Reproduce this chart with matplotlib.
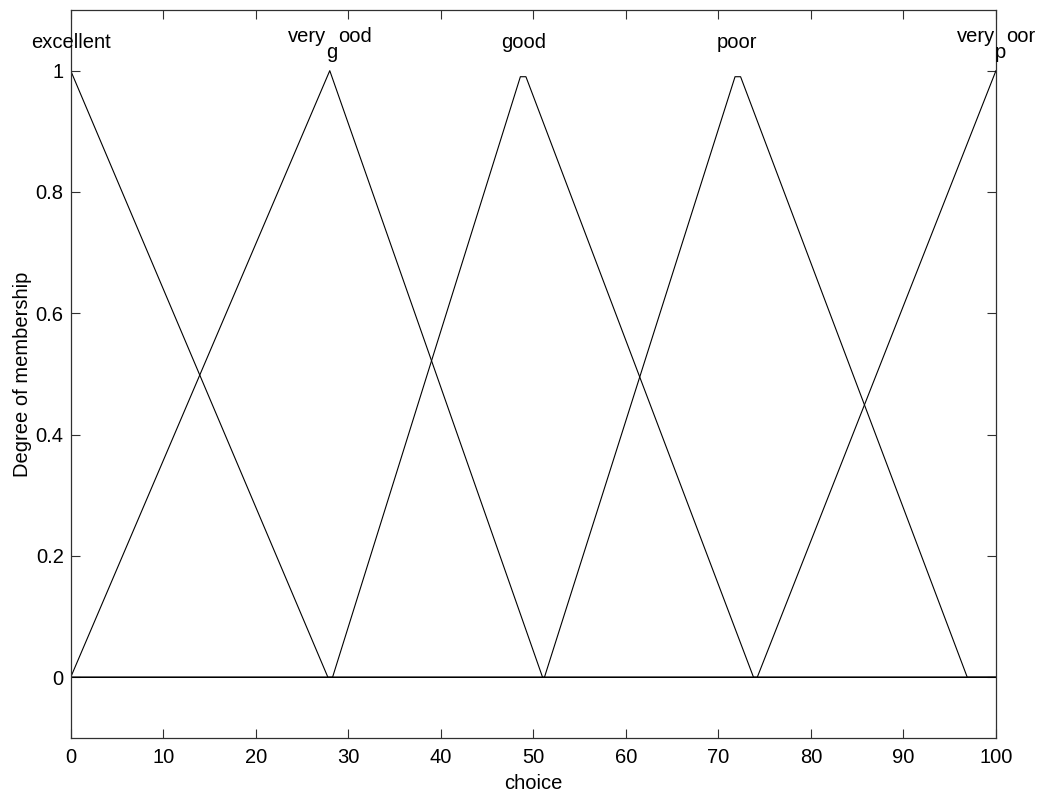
import numpy as np
import matplotlib
matplotlib.use("Agg")
import matplotlib.pyplot as plt

plt.rcParams['font.family'] = ['Liberation Sans', 'DejaVu Sans']

# membership function vertices
mf_names = ["excellent", "very_good", "good", "poor", "very_poor"]
mf_x = [
    [0, 27.8, 100],
    [0, 28.0, 51.0, 100],
    [0, 28.3, 48.6, 49.2, 73.8, 100],
    [0, 51.2, 71.8, 72.4, 96.9, 100],
    [0, 74.2, 100],
]
mf_y = [
    [1, 0, 0],
    [0, 1, 0, 0],
    [0, 0, 0.99, 0.99, 0, 0],
    [0, 0, 0.99, 0.99, 0, 0],
    [0, 0, 1],
]
peak_x = [0, 28, 49, 72, 100]

FS = 14.5

fig = plt.figure(figsize=(10.38, 7.93), dpi=100)
ax = fig.add_axes([0.0681, 0.0694, 0.8914, 0.918])

for xs, ys in zip(mf_x, mf_y):
    ax.plot(xs, ys, color='black', lw=0.8)

ax.set_xlim(0, 100)
ax.set_ylim(-0.1, 1.1)

renderer = fig.canvas.get_renderer()


def text_width_pt(s):
    t = fig.text(0, 0, s, fontsize=FS)
    w = t.get_window_extent(renderer).width * 72.0 / fig.dpi
    t.remove()
    return w


# MATLAB-style labels: underscore turns the next char into a subscript
for name, px in zip(mf_names, peak_x):
    if "_" in name:
        a, b = name.split("_")
        parts = [(a, 0), (b[0], -11.5), (b[1:], 0)]
        widths = [text_width_pt(p) for p, _ in parts]
        x0 = -sum(widths) / 2.0
        for (p, dy), w in zip(parts, widths):
            ax.annotate(p, xy=(px, 1.047), xycoords='data',
                        xytext=(x0, dy), textcoords='offset points',
                        ha='left', va='baseline', fontsize=FS,
                        annotation_clip=False)
            x0 += w
    else:
        ax.text(px, 1.037, name, ha='center', va='baseline', fontsize=FS)

ax.set_xticks(np.arange(0, 101, 10))
ax.set_yticks([0, 0.2, 0.4, 0.6, 0.8, 1])
ax.set_yticklabels(["0", "0.2", "0.4", "0.6", "0.8", "1"])
ax.tick_params(direction='in', length=6.7, width=0.8, top=True, right=True,
               labelsize=FS, color='#303030')
ax.tick_params(axis='x', pad=7)
ax.tick_params(axis='y', pad=5)
for sp in ax.spines.values():
    sp.set_linewidth(0.9)
    sp.set_color('#303030')

ax.set_xlabel("choice", fontsize=FS, labelpad=5)
ax.set_ylabel("Degree of membership", fontsize=FS, labelpad=3)

fig.savefig("out.png", dpi=100)
